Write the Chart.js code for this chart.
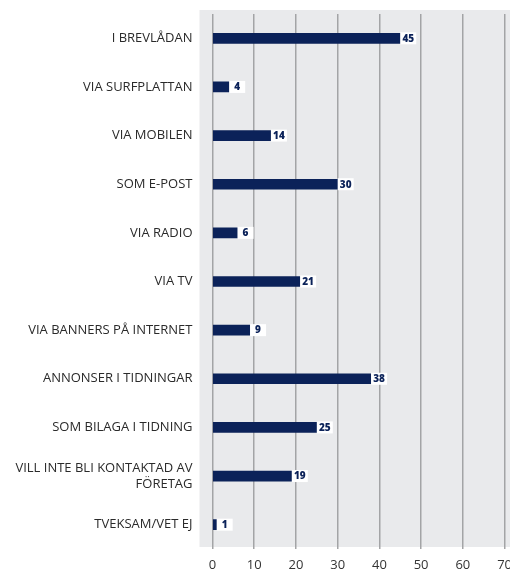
<!DOCTYPE html>
<html lang="sv">
<head>
    <meta charset="UTF-8">
    <title>Kanaler</title>
    <script src="https://cdn.jsdelivr.net/npm/chart.js"></script>
    <style>
        html, body { margin: 0; padding: 0; overflow: hidden; background: #fff; }
        #wrap { width: 520px; height: 570px; }
    </style>
</head>
<body>
    <div id="wrap"><canvas id="chart"></canvas></div>

    <script>
        // Data
        const kategorier = [
            'I BREVLÅDAN',
            'VIA SURFPLATTAN',
            'VIA MOBILEN',
            'SOM E-POST',
            'VIA RADIO',
            'VIA TV',
            'VIA BANNERS PÅ INTERNET',
            'ANNONSER I TIDNINGAR',
            'SOM BILAGA I TIDNING',
            ['VILL INTE BLI KONTAKTAD AV', 'FÖRETAG'],
            'TVEKSAM/VET EJ'
        ];
        const andelar = [45, 4, 14, 30, 6, 21, 9, 38, 25, 19, 1];
        const xMin = 0, xMax = 70, xSteg = 10;

        const navy = '#0b2259';

        // grå bakgrund bakom diagrammet
        const bakgrund = {
            id: 'bakgrund',
            beforeDraw(chart) {
                const { ctx, chartArea: a } = chart;
                ctx.save();
                ctx.fillStyle = '#e9eaec';
                ctx.fillRect(a.left - 13, a.top - 4, chart.width - (a.left - 13), a.bottom - a.top + 2);
                ctx.restore();
            }
        };

        // värdeetiketter i vit ruta
        const etiketter = {
            id: 'etiketter',
            afterDatasetsDraw(chart) {
                const { ctx } = chart;
                const meta = chart.getDatasetMeta(0);
                ctx.save();
                ctx.font = '800 10px "Open Sans", sans-serif';
                ctx.textAlign = 'center';
                ctx.textBaseline = 'middle';
                meta.data.forEach((bar, i) => {
                    const x = bar.x;
                    const y = bar.y;
                    ctx.fillStyle = '#ffffff';
                    ctx.fillRect(x, y - 6, 16, 12);
                    ctx.fillStyle = navy;
                    ctx.fillText(String(andelar[i]), x + 8, y + 0.5);
                });
                ctx.restore();
            }
        };

        new Chart(document.getElementById('chart'), {
            type: 'bar',
            data: {
                labels: kategorier,
                datasets: [{
                    data: andelar,
                    backgroundColor: navy,
                    barThickness: 10,
                    borderWidth: 0
                }]
            },
            options: {
                indexAxis: 'y',
                responsive: true,
                maintainAspectRatio: false,
                animation: false,
                layout: { padding: { top: 14, right: 15, bottom: 0, left: 0 } },
                plugins: {
                    legend: { display: false },
                    tooltip: { enabled: false }
                },
                scales: {
                    x: {
                        min: xMin,
                        max: xMax,
                        ticks: {
                            stepSize: xSteg,
                            padding: 8,
                            color: '#333',
                            font: { family: '"Open Sans", sans-serif', size: 13 }
                        },
                        grid: {
                            color: '#a3a4a6',
                            lineWidth: 1.5,
                            drawTicks: false
                        },
                        border: { display: false },
                        afterFit(scale) {
                            scale.height = 21;
                        }
                    },
                    y: {
                        grid: { display: false, drawTicks: false },
                        border: { display: false },
                        ticks: {
                            padding: 20,
                            color: '#2a2a2a',
                            font: { family: '"Open Sans", sans-serif', size: 13, lineHeight: 1.25 }
                        },
                        afterFit(scale) {
                            scale.width = 212.5;
                            scale.paddingTop = 0;
                            scale.paddingBottom = 0;
                        }
                    }
                }
            },
            plugins: [bakgrund, etiketter]
        });
    </script>
</body>
</html>
